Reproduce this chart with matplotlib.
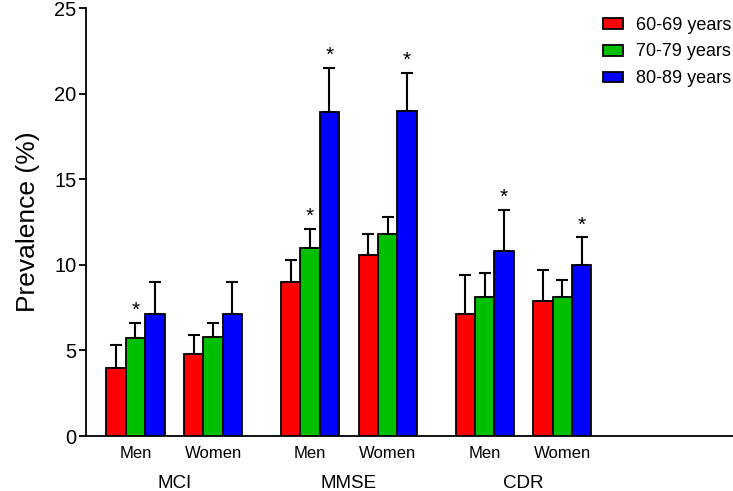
import numpy as np
import matplotlib
matplotlib.use('Agg')
import matplotlib.pyplot as plt

plt.rcParams['font.family'] = ['Liberation Sans', 'DejaVu Sans']

# data
measures = ['MCI', 'MMSE', 'CDR']
sexes = ['Men', 'Women']
age_groups = ['60-69 years', '70-79 years', '80-89 years']
colors = ['#ff0000', '#00bf00', '#0000ff']

# order: MCI men, MCI women, MMSE men, MMSE women, CDR men, CDR women
prev_60 = [4.0, 4.8, 9.0, 10.6, 7.1, 7.9]
prev_70 = [5.7, 5.8, 11.0, 11.8, 8.1, 8.1]
prev_80 = [7.1, 7.1, 18.9, 19.0, 10.8, 10.0]
err_60 = [1.3, 1.1, 1.3, 1.2, 2.3, 1.8]
err_70 = [0.9, 0.8, 1.1, 1.0, 1.4, 1.0]
err_80 = [1.9, 1.9, 2.6, 2.2, 2.4, 1.6]
sig_60 = [False, False, False, False, False, False]
sig_70 = [True, False, True, False, False, False]
sig_80 = [False, False, True, True, True, True]

values = [prev_60, prev_70, prev_80]
errors = [err_60, err_70, err_80]
sigs = [sig_60, sig_70, sig_80]

fig = plt.figure(figsize=(7.33, 4.91), dpi=100)
ax = fig.add_axes([0.1173, 0.112, 0.8827, 0.8717])

# subgroup centres: 4 bar widths between sexes, 5 between measures
centres = np.array([0, 4, 9, 13, 18, 22], dtype=float)
width = 1.0

for i in range(3):
    x = centres + (i - 1) * width
    v = np.array(values[i])
    e = np.array(errors[i])
    ax.bar(x, v, width=width, color=colors[i], edgecolor='black',
           linewidth=1.3, label=age_groups[i], zorder=3)
    ax.errorbar(x, v, yerr=[np.zeros_like(e), e], fmt='none', ecolor='black',
                elinewidth=1.5, capsize=4.5, capthick=1.5, zorder=2)
    for xi, vi, ei, s in zip(x, v, e, sigs[i]):
        if s:
            ax.annotate('*', (xi, vi + ei), xytext=(0, 2), textcoords='offset points',
                        ha='center', va='bottom', fontsize=15)

ax.set_xlim(-2.55, 30.8)
ax.set_ylim(0, 25)
ax.set_yticks([0, 5, 10, 15, 20, 25])
ax.set_xticks(centres)
ax.set_xticklabels(sexes * 3, fontsize=12)
ax.tick_params(axis='x', length=0, pad=7)
ax.tick_params(axis='y', length=5, width=1.3, labelsize=14.5, pad=2)
ax.set_ylabel('Prevalence (%)', fontsize=19, labelpad=10)

for k, m in enumerate(measures):
    xc = (centres[2 * k] + centres[2 * k + 1]) / 2
    ax.annotate(m, (xc, 0), xycoords=('data', 'axes fraction'), xytext=(0, -34.5),
                textcoords='offset points', ha='center', va='center', fontsize=13.5)

for side in ['top', 'right']:
    ax.spines[side].set_visible(False)
ax.spines['left'].set_linewidth(1.3)
ax.spines['bottom'].set_linewidth(1.3)

ax.legend(loc='upper right', bbox_to_anchor=(1.022, 1.018), frameon=False, fontsize=13,
          handlelength=1.1, handleheight=0.55, labelspacing=0.55, handletextpad=0.7)

fig.savefig('out.png', dpi=100)
